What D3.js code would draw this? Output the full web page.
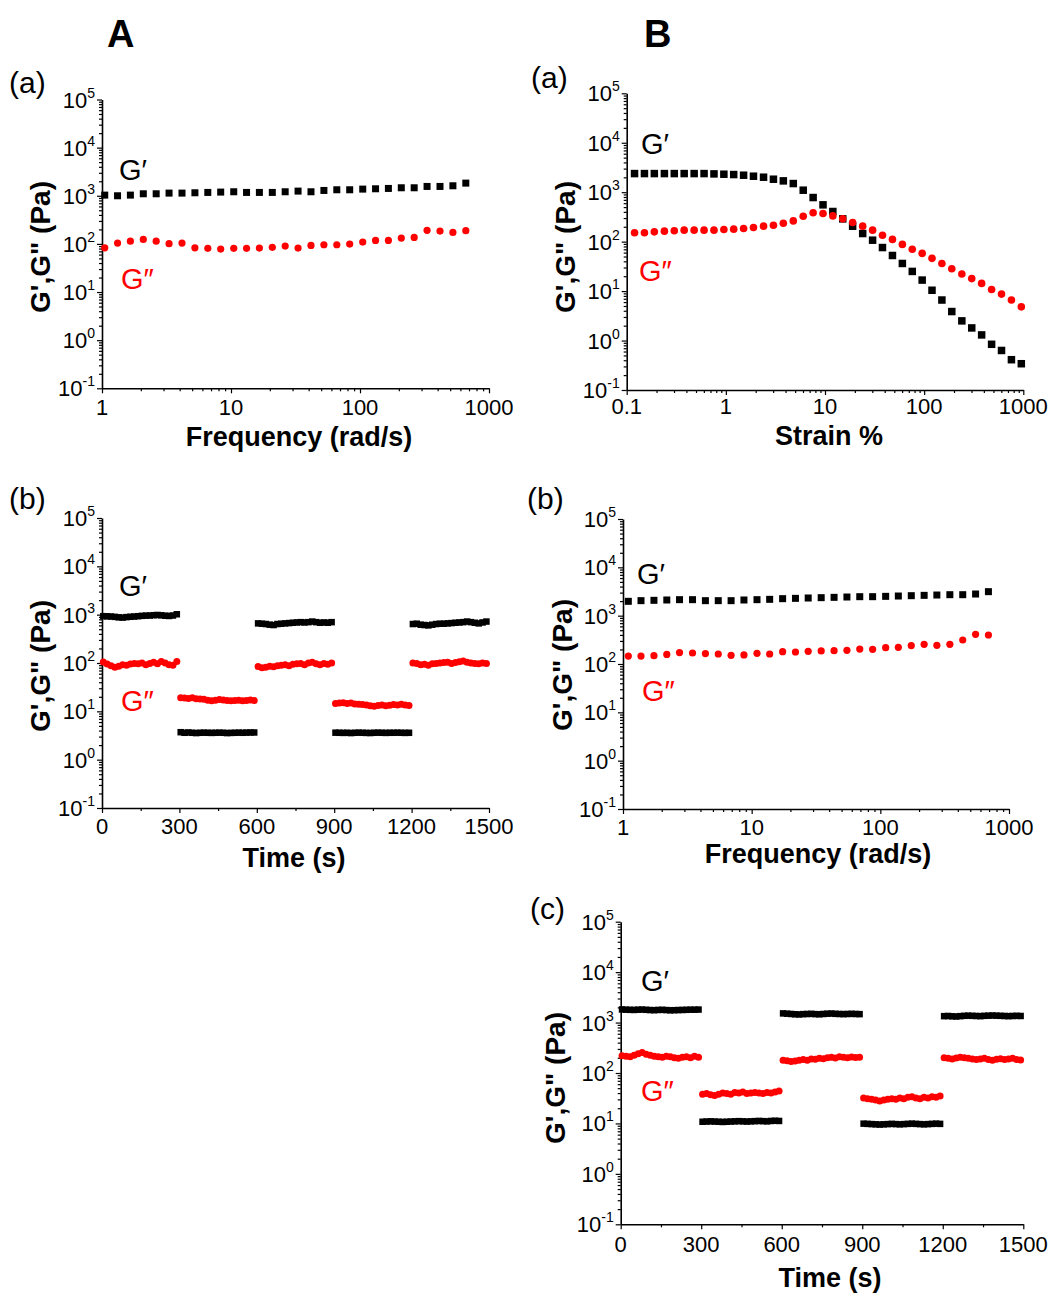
<!DOCTYPE html>
<html><head><meta charset="utf-8">
<script src="https://d3js.org/d3.v7.min.js"></script>
<style>
html,body{margin:0;padding:0;background:#fff;}
svg{display:block;}
text{font-family:"Liberation Sans",Arial,sans-serif;fill:#000;}
</style></head>
<body>
<svg id="chart" width="1063" height="1297"></svg>
<script>
// ---------------- data ----------------
const yExponents = ["-1","0","1","2","3","4","5"];
const freqTickLabels = ["1","10","100","1000"];
const strainTickLabels = ["0.1","1","10","100","1000"];
const timeTickLabels = ["0","300","600","900","1200","1500"];
const seriesNames = ["G\u2032","G\u2033"];

// A(a) frequency sweep
const freqA = [1.05,1.32,1.66,2.09,2.63,3.31,4.17,5.25,6.61,8.32,10.5,13.2,16.6,20.9,26.3,33.1,41.7,52.5,66.1,83.2,105,132,166,209,263,331,417,525,661];
const freqA_Gp = [1032,1000,1032,1100,1100,1136,1136,1154,1173,1192,1211,1173,1173,1173,1211,1250,1211,1290,1332,1332,1375,1397,1420,1466,1466,1562,1562,1613,1832];
const freqA_Gpp = [83,104,114,124,114,101,104,83,81,78,81,81,82,85,90,82,93,96,96,99,109,118,118,132,136,191,185,173,188];

// B(a) strain sweep
const strainB = [0.120,0.151,0.190,0.240,0.302,0.380,0.479,0.603,0.759,0.955,1.20,1.51,1.90,2.40,3.02,3.80,4.79,6.03,7.59,9.55,12.0,15.1,19.0,24.0,30.2,38.0,47.9,60.3,75.9,95.5,120,151,190,240,302,380,479,603,759,955];
const strainB_Gp = [2380,2380,2380,2380,2380,2380,2380,2380,2345,2310,2275,2205,2105,2010,1830,1694,1496,1098,780,555,407,289,205,146,107,76,52.5,36.2,25,16.7,10.4,6.6,3.86,2.5,1.8,1.3,0.84,0.63,0.41,0.34];
const strainB_Gpp = [151,151,158,163,166,171,171,171,171,176,179,184,193,206,215,236,263,327,383,371,332,289,244,206,171,135,111,88,70,58,46,36.2,28.3,22.2,17.9,14.3,10.8,8.7,6.6,4.8];

// B(b) frequency sweep
const freqB = [1.1,1.38,1.74,2.19,2.75,3.47,4.37,5.5,6.92,8.71,11.0,13.8,17.4,21.9,27.5,34.7,43.7,55.0,69.2,87.1,110,138,174,219,275,347,437,550,692];
const freqB_Gp = [1980,2044,2077,2110,2143,2143,2044,2044,2044,2110,2143,2177,2248,2283,2320,2357,2394,2432,2471,2471,2510,2550,2591,2632,2674,2717,2717,2805,3137];
const freqB_Gpp = [146,146,149,158,172,169,164,161,151,154,166,161,180,177,183,186,189,192,204,201,218,221,240,255,243,255,314,411,398];

// time sweeps (shared time points)
const timeS = [5,20,35,50,65,80,95,110,125,140,155,170,185,200,215,230,245,260,275,290,
305,320,335,350,365,380,395,410,425,440,455,470,485,500,515,530,545,560,575,590,
605,620,635,650,665,680,695,710,725,740,755,770,785,800,815,830,845,860,875,890,
905,920,935,950,965,980,995,1010,1025,1040,1055,1070,1085,1100,1115,1130,1145,1160,1175,1190,
1205,1220,1235,1250,1265,1280,1295,1310,1325,1340,1355,1370,1385,1400,1415,1430,1445,1460,1475,1490];

// A(b)
const timeA_Gp = [930,925,915,900,880,870,890,905,915,930,945,955,960,975,985,970,950,940,960,1020,
3.7,3.6,3.65,3.6,3.55,3.6,3.62,3.6,3.58,3.6,3.62,3.6,3.55,3.58,3.6,3.62,3.6,3.63,3.65,3.65,
660,650,640,620,610,640,650,660,670,680,690,700,690,700,720,700,680,690,680,700,
3.62,3.6,3.58,3.6,3.55,3.6,3.62,3.6,3.58,3.56,3.6,3.62,3.6,3.58,3.6,3.6,3.62,3.6,3.58,3.6,
640,650,620,610,600,620,640,650,650,660,670,680,690,700,720,700,680,660,690,720];
const timeA_Gpp = [105,95,88,82,86,92,90,95,98,96,100,92,98,104,96,108,100,92,90,108,
19,18.8,18.5,19,18.2,18,17.8,17,16.5,17,17.5,17.2,16.8,16.5,16.8,17,16.5,16.8,17.2,16.8,
85,80,82,86,84,88,90,92,88,94,96,98,92,100,104,96,92,98,94,100,
14.5,14.8,15,14.6,14.8,14.2,14,13.8,13.5,13,12.8,13.2,13.5,13,13.4,13.8,13.5,14,13.6,13.2,
100,98,92,94,90,96,98,100,102,104,98,102,106,110,104,100,98,96,100,98];

// B(c)
const timeB_Gp = [1820,1800,1790,1780,1800,1810,1790,1770,1760,1780,1790,1770,1750,1760,1770,1780,1790,1800,1800,1810,
10.8,10.9,11,10.9,10.8,10.7,10.8,10.9,11,11.1,11,10.9,11,11.1,11.2,11.1,11,11.2,11.3,11.2,
1520,1500,1480,1460,1450,1470,1480,1490,1470,1460,1480,1500,1510,1490,1480,1470,1480,1490,1480,1470,
9.9,9.8,9.7,9.6,9.5,9.6,9.7,9.8,9.7,9.6,9.7,9.8,9.9,9.8,9.7,9.6,9.7,9.8,9.9,9.8,
1340,1350,1330,1320,1340,1360,1370,1360,1350,1340,1360,1370,1380,1370,1360,1350,1340,1350,1360,1350];
const timeB_Gpp = [220,215,210,225,240,255,235,225,215,210,205,215,210,200,195,205,210,200,215,205,
38,39,37,36,38,40,39,38,41,40,42,39,40,41,40,39,41,40,42,44,
180,175,170,172,178,185,180,190,188,195,192,200,205,198,210,205,200,208,202,205,
32,31,30,29,28,29,30,31,30,32,31,33,34,32,31,33,32,34,33,35,
200,195,190,198,205,200,195,190,185,190,195,185,180,188,192,186,190,195,185,182];

// ---------------- drawing ----------------
const svg = d3.select("#chart");
const RED = "#ff0000";
const BLACK = "#000000";
const LABEL_FONT = "'Noto Sans','Open Sans',sans-serif";

function styleAxis(sel){
  sel.select(".domain").attr("stroke","#000").attr("stroke-width",1.6);
  sel.selectAll(".tick line").attr("stroke","#000").attr("stroke-width",1.2);
}

function drawPanel(c){
  const g = svg.append("g");
  const x = (c.xLog ? d3.scaleLog() : d3.scaleLinear()).domain(c.xDomain).range([c.x0, c.x1]);
  const y = d3.scaleLog().domain([0.1, 1e5]).range([c.yB, c.yT]);

  const yMajor = yExponents.map(e => Math.pow(10, +e));
  const yMinor = [];
  for (let k = -1; k < 5; k++) for (let m = 2; m < 10; m++) yMinor.push(m * Math.pow(10, k));

  const ym = g.append("g").attr("transform", `translate(${c.x0},0)`)
    .call(d3.axisLeft(y).tickValues(yMinor).tickSize(3).tickSizeOuter(0).tickFormat(""));
  ym.select(".domain").remove(); styleAxis(ym);
  const ya = g.append("g").attr("transform", `translate(${c.x0},0)`)
    .call(d3.axisLeft(y).tickValues(yMajor).tickSize(5).tickSizeOuter(0).tickFormat(""));
  styleAxis(ya);

  yExponents.forEach(e => {
    const t = g.append("text").attr("x", c.x0 - 7).attr("y", y(Math.pow(10, +e)) + 8)
      .attr("text-anchor", "end").attr("font-size", 22);
    t.append("tspan").text("10");
    t.append("tspan").attr("dy", -10).attr("font-size", 14).text(e);
  });

  const xMinor = [];
  if (c.xLog) {
    const lo = Math.round(Math.log10(c.xDomain[0])), hi = Math.round(Math.log10(c.xDomain[1]));
    for (let k = lo; k < hi; k++) for (let m = 2; m < 10; m++) xMinor.push(m * Math.pow(10, k));
  } else {
    for (let v = 150; v < c.xDomain[1]; v += 300) xMinor.push(v);
  }
  const xm = g.append("g").attr("transform", `translate(0,${c.yB})`)
    .call(d3.axisBottom(x).tickValues(xMinor).tickSize(3).tickSizeOuter(0).tickFormat(""));
  xm.select(".domain").remove(); styleAxis(xm);
  const xMajor = c.xLabels.map(Number);
  const xa = g.append("g").attr("transform", `translate(0,${c.yB})`)
    .call(d3.axisBottom(x).tickValues(xMajor).tickSize(5).tickSizeOuter(0).tickFormat(""));
  styleAxis(xa);
  c.xLabels.forEach((l, i) => {
    g.append("text").attr("x", x(xMajor[i])).attr("y", c.yB + c.xLabOff)
      .attr("text-anchor", "middle").attr("font-size", 22).text(l);
  });

  // axis titles
  g.append("text").attr("x", c.xTitleX).attr("y", c.xTitleY).attr("text-anchor", "middle")
    .attr("font-size", 27).attr("font-weight", "bold").text(c.xTitle);
  g.append("text").attr("transform", `translate(${c.yTitleX},${c.yTitleY}) rotate(-90)`)
    .attr("text-anchor", "middle").attr("font-size", 28).attr("font-weight", "bold")
    .text("G',G\" (Pa)");

  // data
  const sq = c.sq, r = c.r;
  g.append("g").selectAll("rect").data(d3.zip(c.xs, c.gp)).join("rect")
    .attr("x", d => x(d[0]) - sq / 2).attr("y", d => y(d[1]) - sq / 2)
    .attr("width", sq).attr("height", sq).attr("fill", BLACK);
  g.append("g").selectAll("circle").data(d3.zip(c.xs, c.gpp)).join("circle")
    .attr("cx", d => x(d[0])).attr("cy", d => y(d[1])).attr("r", r).attr("fill", RED);

  // labels
  g.append("text").attr("x", c.panelLabel[1]).attr("y", c.panelLabel[2])
    .attr("font-family", LABEL_FONT).attr("font-size", 30).text(c.panelLabel[0]);
  g.append("text").attr("x", c.gpLab[0]).attr("y", c.gpLab[1])
    .attr("font-family", LABEL_FONT).attr("font-size", 29).text(seriesNames[0]);
  g.append("text").attr("x", c.gppLab[0]).attr("y", c.gppLab[1])
    .attr("font-family", LABEL_FONT).attr("font-size", 29)
    .style("fill", RED).text(seriesNames[1]);
}

// Big column letters
svg.append("text").attr("x", 107).attr("y", 47).attr("font-size", 38).attr("font-weight", "bold").text("A");
svg.append("text").attr("x", 644).attr("y", 47).attr("font-size", 38).attr("font-weight", "bold").text("B");

drawPanel({ x0: 102, x1: 489, yT: 99.5, yB: 388.3, xLog: true, xDomain: [1, 1000], xLabels: freqTickLabels, xLabOff: 27,
  xTitle: "Frequency (rad/s)", xTitleX: 299, xTitleY: 446, yTitleX: 50, yTitleY: 247,
  xs: freqA, gp: freqA_Gp, gpp: freqA_Gpp, sq: 7, r: 3.6,
  panelLabel: ["(a)", 9, 93], gpLab: [119, 180], gppLab: [121, 289] });

drawPanel({ x0: 626.7, x1: 1023.3, yT: 93.3, yB: 390, xLog: true, xDomain: [0.1, 1000], xLabels: strainTickLabels, xLabOff: 24,
  xTitle: "Strain %", xTitleX: 829, xTitleY: 445, yTitleX: 575, yTitleY: 247,
  xs: strainB, gp: strainB_Gp, gpp: strainB_Gpp, sq: 7.5, r: 3.8,
  panelLabel: ["(a)", 531, 88], gpLab: [641, 154], gppLab: [639, 281] });

drawPanel({ x0: 102, x1: 489, yT: 518, yB: 808, xLog: false, xDomain: [0, 1500], xLabels: timeTickLabels, xLabOff: 26,
  xTitle: "Time (s)", xTitleX: 294, xTitleY: 867, yTitleX: 50, yTitleY: 666,
  xs: timeS, gp: timeA_Gp, gpp: timeA_Gpp, sq: 6.5, r: 3.5,
  panelLabel: ["(b)", 9, 509], gpLab: [119, 596], gppLab: [121, 711] });

drawPanel({ x0: 623, x1: 1009, yT: 519, yB: 809, xLog: true, xDomain: [1, 1000], xLabels: freqTickLabels, xLabOff: 26,
  xTitle: "Frequency (rad/s)", xTitleX: 818, xTitleY: 863, yTitleX: 572, yTitleY: 665,
  xs: freqB, gp: freqB_Gp, gpp: freqB_Gpp, sq: 7, r: 3.6,
  panelLabel: ["(b)", 527, 509], gpLab: [637, 584], gppLab: [642, 701] });

drawPanel({ x0: 620.7, x1: 1023.3, yT: 921.7, yB: 1224.3, xLog: false, xDomain: [0, 1500], xLabels: timeTickLabels, xLabOff: 28,
  xTitle: "Time (s)", xTitleX: 830, xTitleY: 1287, yTitleX: 565, yTitleY: 1078,
  xs: timeS, gp: timeB_Gp, gpp: timeB_Gpp, sq: 6.5, r: 3.5,
  panelLabel: ["(c)", 530, 919], gpLab: [641, 991], gppLab: [641, 1101] });
</script>
</body></html>
